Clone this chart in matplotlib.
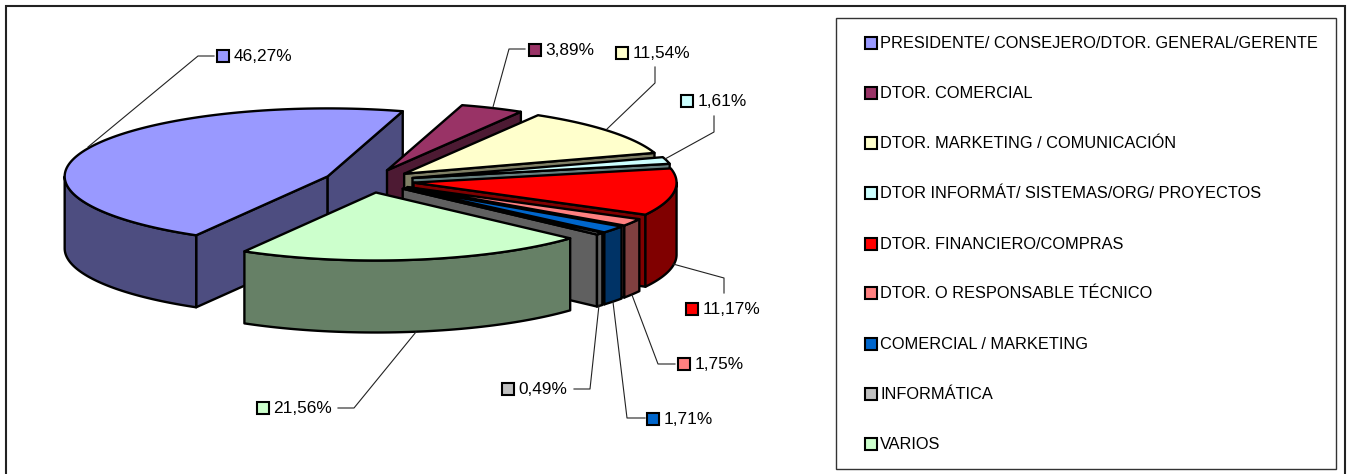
from matplotlib import pyplot as plt
from matplotlib.patches import Polygon, Rectangle
import numpy as np

plt.rcParams['font.family'] = ['Liberation Sans', 'DejaVu Sans']

categories = ['PRESIDENTE/ CONSEJERO/DTOR. GENERAL/GERENTE', 'DTOR. COMERCIAL',
              'DTOR. MARKETING / COMUNICACIÓN', 'DTOR INFORMÁT/ SISTEMAS/ORG/ PROYECTOS',
              'DTOR. FINANCIERO/COMPRAS', 'DTOR. O RESPONSABLE TÉCNICO',
              'COMERCIAL / MARKETING', 'INFORMÁTICA', 'VARIOS']
values = [46.27, 3.89, 11.54, 1.61, 11.17, 1.75, 1.71, 0.49, 21.56]
colors = ['#9999FF', '#993366', '#FFFFCC', '#CCFFFF', '#FF0000',
          '#FF8080', '#0066CC', '#C0C0C0', '#CCFFCC']

# pie geometry, in pixels of the picture
cx, cy = 369, 181
rx, ry = 263, 68
depth = 72
explode = 45
start = 240

# leader lines: (x, y) pixel points, then marker centre
leaders = [[(88, 147), (198, 56), (214, 56)],
           [(493, 107), (509, 49), (525, 49)],
           [(607, 129), (655, 83), (655, 67)],
           [(665, 159), (714, 132), (714, 116)],
           [(673, 264), (724, 278), (724, 293)],
           [(632, 295), (658, 364), (675, 364)],
           [(613, 302), (627, 418), (645, 418)],
           [(599, 305), (590, 389), (574, 389)],
           [(416, 332), (354, 408), (338, 408)]]
label_marks = [(223, 56), (535, 49.5), (622, 53), (687, 101), (692, 309),
               (684, 364), (653, 418.5), (508, 389), (263, 408)]
legend_y = [43, 93, 143, 193, 244, 293, 344, 394, 444]


def dark(c):
    r, g, b, a = plt.matplotlib.colors.to_rgba(c)
    return (r * 0.5, g * 0.5, b * 0.5)


def ell(x0, y0, t):
    t = np.radians(t)
    return np.column_stack([x0 + rx * np.cos(t), y0 - ry * np.sin(t)])


fig = plt.figure(figsize=(13.62, 4.74), dpi=100)
ax = fig.add_axes([0, 0, 1, 1])
ax.set_xlim(0, 1362)
ax.set_ylim(474, 0)
ax.axis('off')

ax.add_patch(Rectangle((6, 6), 1339, 480, fc='white', ec='#222222', lw=1.5))
ax.add_patch(Rectangle((836, 18), 500, 451, fc='white', ec='#333333', lw=1))

lw = 1.7
t0 = start
total = sum(values)
for v, c in zip(values, colors):
    t1 = t0 - v / total * 360
    mid = np.radians((t0 + t1) / 2)
    x0 = cx + explode * np.cos(mid)
    y0 = cy - explode * ry / rx * np.sin(mid)
    side = dark(c)

    # radial walls that face the viewer
    for t, visible in ((t0, np.cos(np.radians(t0)) < 0), (t1, np.cos(np.radians(t1)) > 0)):
        if visible:
            p = ell(x0, y0, np.array([t]))[0]
            wall = [(x0, y0), p, (p[0], p[1] + depth), (x0, y0 + depth)]
            ax.add_patch(Polygon(wall, fc=side, ec='black', lw=lw, joinstyle='round'))

    # outer wall, front half of the ellipse only
    for shift in (0, 360):
        a = max(t1 + shift, 180)
        b = min(t0 + shift, 360)
        if b > a:
            ts = np.linspace(a, b, 60)
            top = ell(x0, y0, ts)
            bottom = top[::-1] + [0, depth]
            ax.add_patch(Polygon(np.vstack([top, bottom]), fc=side, ec='black', lw=lw, joinstyle='round'))

    # top face
    ts = np.linspace(t0, t1, 120)
    ax.add_patch(Polygon(np.vstack([[(x0, y0)], ell(x0, y0, ts)]), fc=c, ec='black', lw=lw, joinstyle='round'))
    t0 = t1

for v, c, line, mark in zip(values, colors, leaders, label_marks):
    xs, ys = zip(*line)
    ax.plot(xs, ys, color='#222222', lw=0.8)
    ax.plot(mark[0], mark[1], 's', ms=8.2, mfc=c, mec='black', mew=1.5)
    ax.text(mark[0] + 10.5, mark[1] + 0.5, f'{v:.2f}%'.replace('.', ','),
            fontsize=12.4, va='center', ha='left', color='black')

for name, c, y in zip(categories, colors, legend_y):
    ax.plot(871, y, 's', ms=8.2, mfc=c, mec='black', mew=1.5)
    ax.text(880, y + 0.5, name, fontsize=11.8, va='center', ha='left', color='black')

fig.savefig('out.png', dpi=100)
